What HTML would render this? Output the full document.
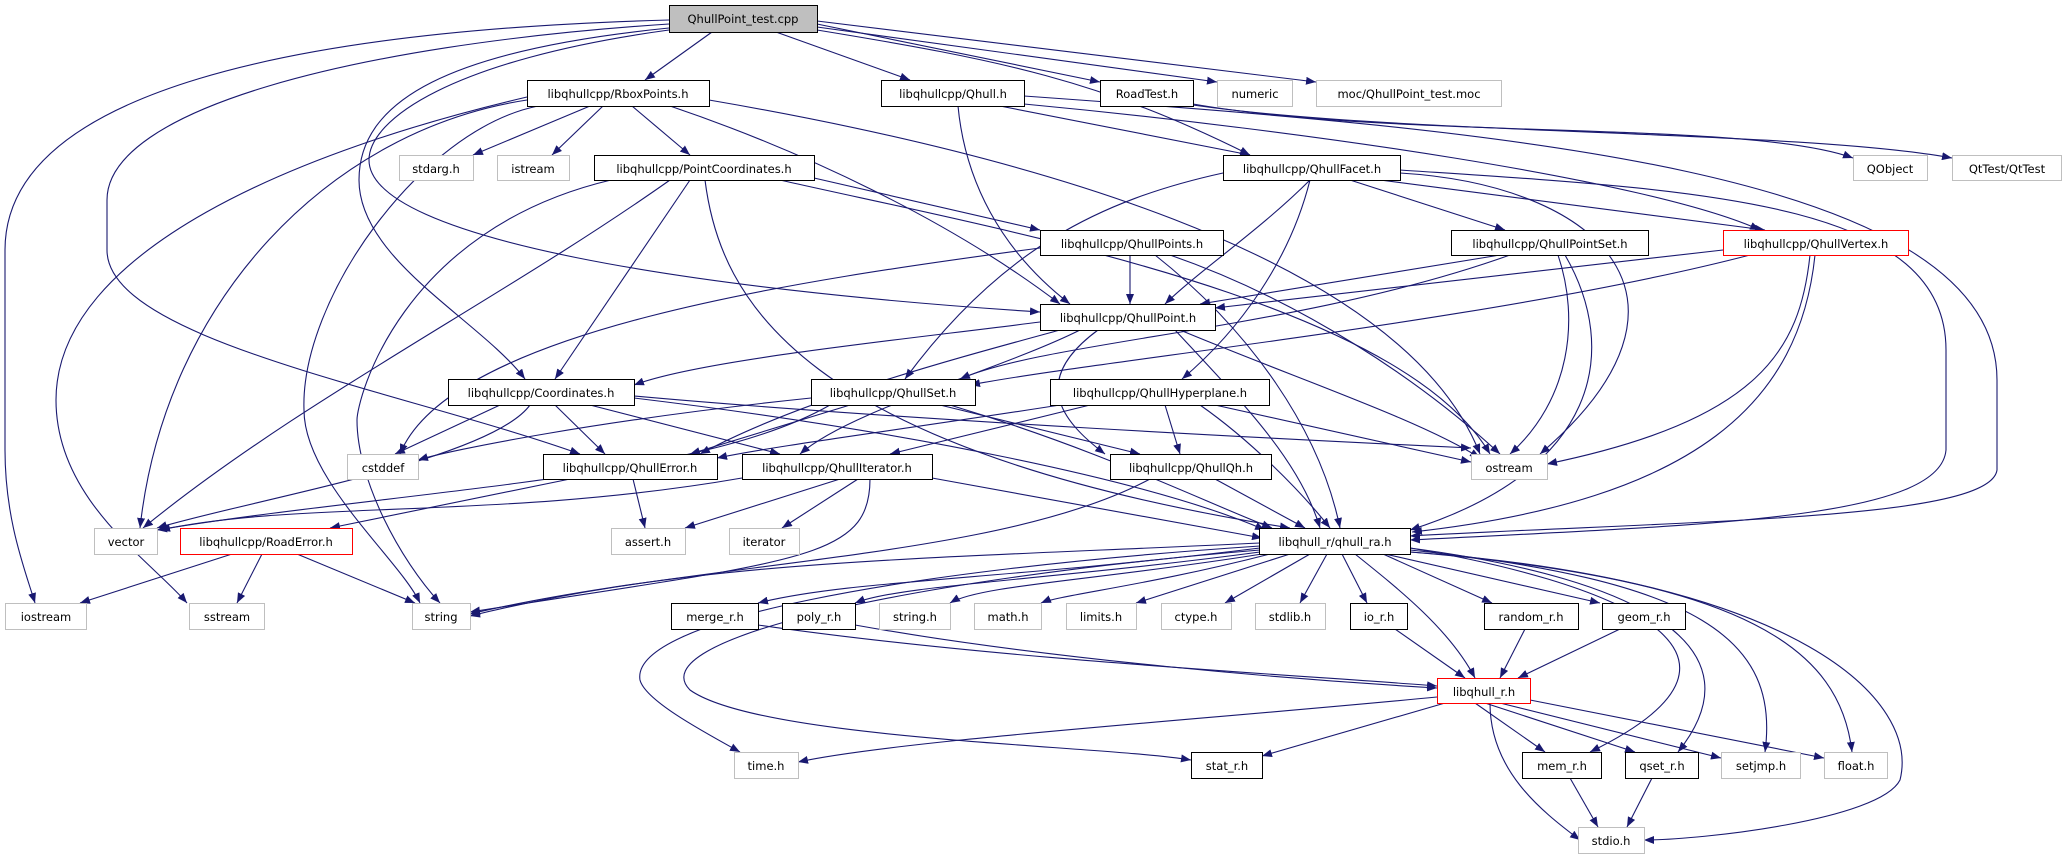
<!DOCTYPE html>
<html><head><meta charset="utf-8"><style>
html,body{margin:0;padding:0;background:#fff;}
svg{display:block;}
text{font-family:"DejaVu Sans","Liberation Sans",sans-serif;font-size:11.5px;fill:#000;}
.e{fill:none;stroke:#191970;stroke-width:1.1;marker-end:url(#a);}
.n{fill:#fff;stroke:#000;stroke-width:1;}
.g{fill:#fff;stroke:#bfbfbf;stroke-width:1;}
.r{fill:#fff;stroke:#ff0000;stroke-width:1;}
</style></head><body>
<svg width="2066" height="859" viewBox="0 0 2066 859" xmlns="http://www.w3.org/2000/svg">
<defs><marker id="a" markerWidth="10" markerHeight="8" refX="10" refY="4" orient="auto" markerUnits="userSpaceOnUse"><polygon points="0,0 10,4 0,8" fill="#191970"/></marker></defs>
<g>
<path class="e" d="M712,32 L645,80"/>
<path class="e" d="M776,32 L910,80"/>
<path class="e" d="M817,24 L1100,82"/>
<path class="e" d="M817,27 L1217,82"/>
<path class="e" d="M817,21 L1316,82"/>
<path class="e" d="M817,30 C1000,60 1100,80 1250,155"/>
<path class="e" d="M669,20 C300,30 5,90 5,250 L5,450 C5,520 25,570 35,603"/>
<path class="e" d="M669,24 C350,45 107,110 107,200 L107,250 C107,340 400,390 580,454"/>
<path class="e" d="M669,28 C450,50 359,100 359,180 C359,260 480,320 525,379"/>
<path class="e" d="M669,30 C450,60 369,120 369,160 C369,240 700,290 1040,312"/>
<path class="e" d="M590,106 L473,155"/>
<path class="e" d="M603,106 L552,155"/>
<path class="e" d="M632,106 L690,155"/>
<path class="e" d="M527,100 C330,130 165,300 140,528"/>
<path class="e" d="M527,97 C300,150 56,250 56,400 C56,500 150,560 187,603"/>
<path class="e" d="M538,106 C420,130 300,300 304,410 C304,480 400,560 420,603"/>
<path class="e" d="M670,106 C800,150 950,220 1060,304"/>
<path class="e" d="M709,100 C1000,150 1400,250 1480,454"/>
<path class="e" d="M958,106 C965,180 1000,250 1070,304"/>
<path class="e" d="M1000,106 L1250,155"/>
<path class="e" d="M1024,104 C1300,130 1650,180 1760,230"/>
<path class="e" d="M1024,96 C1500,130 1997,170 1997,380 L1997,470 C1990,520 1700,520 1410,536"/>
<path class="e" d="M1193,104 C1400,140 1750,120 1853,158"/>
<path class="e" d="M1193,105 C1400,135 1800,130 1952,158"/>
<path class="e" d="M690,180 L555,379"/>
<path class="e" d="M814,178 L1040,230"/>
<path class="e" d="M780,180 C1000,230 1400,300 1490,454"/>
<path class="e" d="M705,180 C720,300 800,450 1290,528"/>
<path class="e" d="M670,180 C500,300 300,400 143,528"/>
<path class="e" d="M611,180 C400,230 357,400 357,420 C357,480 400,560 440,603"/>
<path class="e" d="M1310,180 C1260,230 1200,270 1165,304"/>
<path class="e" d="M1310,180 C1290,260 1240,330 1182,379"/>
<path class="e" d="M1350,180 L1505,230"/>
<path class="e" d="M1380,180 L1765,230"/>
<path class="e" d="M1223,173 C1100,200 1000,250 905,379"/>
<path class="e" d="M1400,173 C1600,185 1720,300 1540,454"/>
<path class="e" d="M1400,170 C1700,190 1946,200 1946,350 L1946,450 C1940,520 1700,525 1410,540"/>
<path class="e" d="M1130,255 L1130,304"/>
<path class="e" d="M1040,248 C800,280 450,330 400,454"/>
<path class="e" d="M1155,255 C1250,330 1320,430 1340,528"/>
<path class="e" d="M1170,255 C1300,300 1420,380 1500,454"/>
<path class="e" d="M1500,255 L1200,304"/>
<path class="e" d="M1510,255 C1300,330 1050,340 960,379"/>
<path class="e" d="M1558,255 C1580,320 1570,400 1510,454"/>
<path class="e" d="M1565,255 C1620,350 1600,470 1410,530"/>
<path class="e" d="M1723,250 L1215,308"/>
<path class="e" d="M1750,255 C1500,320 1100,360 970,385"/>
<path class="e" d="M1810,255 C1800,350 1760,420 1547,464"/>
<path class="e" d="M1815,255 C1800,400 1700,500 1412,532"/>
<path class="e" d="M1040,322 C900,340 700,360 634,385"/>
<path class="e" d="M1060,330 C950,360 800,400 700,454"/>
<path class="e" d="M1080,330 C1000,370 850,410 800,454"/>
<path class="e" d="M1098,330 C1030,380 1060,420 1105,454"/>
<path class="e" d="M1180,330 C1300,380 1420,420 1480,458"/>
<path class="e" d="M1175,330 C1240,400 1300,460 1320,528"/>
<path class="e" d="M500,405 L395,454"/>
<path class="e" d="M530,405 C490,460 250,500 157,528"/>
<path class="e" d="M555,405 L605,454"/>
<path class="e" d="M590,405 L780,454"/>
<path class="e" d="M634,398 C900,430 1150,480 1265,530"/>
<path class="e" d="M634,396 C900,420 1300,440 1471,448"/>
<path class="e" d="M811,398 C600,420 450,450 418,460"/>
<path class="e" d="M850,405 L690,454"/>
<path class="e" d="M940,405 L1140,454"/>
<path class="e" d="M950,405 C1100,450 1200,500 1272,528"/>
<path class="e" d="M830,405 C700,480 400,490 157,530"/>
<path class="e" d="M1060,405 C900,430 780,445 717,458"/>
<path class="e" d="M1090,405 L890,454"/>
<path class="e" d="M1165,405 L1180,454"/>
<path class="e" d="M1215,405 L1471,462"/>
<path class="e" d="M1200,405 C1250,440 1300,490 1330,528"/>
<path class="e" d="M633,479 L645,528"/>
<path class="e" d="M570,479 L330,528"/>
<path class="e" d="M742,478 C500,520 300,500 160,530"/>
<path class="e" d="M840,479 L685,528"/>
<path class="e" d="M858,479 L782,528"/>
<path class="e" d="M932,478 L1262,538"/>
<path class="e" d="M870,479 C870,560 800,560 470,612"/>
<path class="e" d="M1215,479 L1305,528"/>
<path class="e" d="M1150,479 C1000,560 700,560 470,614"/>
<path class="e" d="M232,554 L80,603"/>
<path class="e" d="M262,554 L237,603"/>
<path class="e" d="M297,554 L415,603"/>
<path class="e" d="M1260,543 C900,560 700,560 470,616"/>
<path class="e" d="M1260,548 C1000,580 850,580 758,603"/>
<path class="e" d="M1260,552 C1050,580 900,585 855,603"/>
<path class="e" d="M1262,554 C1100,580 980,585 950,603"/>
<path class="e" d="M1270,554 C1150,585 1060,595 1041,603"/>
<path class="e" d="M1290,554 L1136,603"/>
<path class="e" d="M1310,554 L1225,603"/>
<path class="e" d="M1327,554 L1300,603"/>
<path class="e" d="M1342,554 L1367,603"/>
<path class="e" d="M1383,554 L1492,603"/>
<path class="e" d="M1385,554 L1600,603"/>
<path class="e" d="M1355,554 C1400,590 1450,630 1475,678"/>
<path class="e" d="M1260,546 C900,570 630,620 640,680 C645,700 700,730 740,752"/>
<path class="e" d="M1260,550 C900,580 640,640 690,690 C760,740 1100,745 1191,760"/>
<path class="e" d="M1410,548 C1600,580 1800,650 1590,752"/>
<path class="e" d="M1410,548 C1650,580 1760,650 1678,752"/>
<path class="e" d="M1410,550 C1700,580 1780,640 1765,752"/>
<path class="e" d="M1410,552 C1750,580 1840,650 1852,752"/>
<path class="e" d="M1410,552 C1800,580 1920,700 1900,780 C1880,820 1700,840 1644,840"/>
<path class="e" d="M758,625 C1000,660 1300,675 1437,686"/>
<path class="e" d="M855,625 C1050,660 1300,680 1437,688"/>
<path class="e" d="M1395,629 L1465,678"/>
<path class="e" d="M1525,629 L1500,678"/>
<path class="e" d="M1620,629 L1518,678"/>
<path class="e" d="M1437,697 C1200,720 900,740 798,762"/>
<path class="e" d="M1445,703 L1262,756"/>
<path class="e" d="M1475,703 L1545,752"/>
<path class="e" d="M1485,703 L1635,752"/>
<path class="e" d="M1500,703 L1721,758"/>
<path class="e" d="M1530,700 L1824,758"/>
<path class="e" d="M1490,703 C1490,770 1540,810 1580,840"/>
<path class="e" d="M1570,778 L1598,827"/>
<path class="e" d="M1652,778 L1627,827"/>
</g>
<g>
<rect x="669.5" y="5.5" width="148" height="27" fill="#bfbfbf" stroke="#000"/><text x="743" y="23" text-anchor="middle">QhullPoint_test.cpp</text>
<rect class="n" x="527.5" y="80.5" width="182" height="26"/><text x="618" y="98" text-anchor="middle">libqhullcpp/RboxPoints.h</text>
<rect class="n" x="881.5" y="80.5" width="143" height="26"/><text x="953" y="98" text-anchor="middle">libqhullcpp/Qhull.h</text>
<rect class="n" x="1100.5" y="80.5" width="93" height="26"/><text x="1147" y="98" text-anchor="middle">RoadTest.h</text>
<rect class="g" x="1217.5" y="80.5" width="75" height="26"/><text x="1255" y="98" text-anchor="middle">numeric</text>
<rect class="g" x="1316.5" y="80.5" width="185" height="26"/><text x="1409" y="98" text-anchor="middle">moc/QhullPoint_test.moc</text>
<rect class="g" x="399.5" y="155.5" width="74" height="25"/><text x="436" y="173" text-anchor="middle">stdarg.h</text>
<rect class="g" x="497.5" y="155.5" width="72" height="25"/><text x="533" y="173" text-anchor="middle">istream</text>
<rect class="n" x="594.5" y="155.5" width="220" height="25"/><text x="704" y="173" text-anchor="middle">libqhullcpp/PointCoordinates.h</text>
<rect class="n" x="1223.5" y="155.5" width="177" height="25"/><text x="1312" y="173" text-anchor="middle">libqhullcpp/QhullFacet.h</text>
<rect class="g" x="1853.5" y="155.5" width="74" height="25"/><text x="1890" y="173" text-anchor="middle">QObject</text>
<rect class="g" x="1952.5" y="155.5" width="109" height="25"/><text x="2007" y="173" text-anchor="middle">QtTest/QtTest</text>
<rect class="n" x="1040.5" y="230.5" width="183" height="25"/><text x="1132" y="248" text-anchor="middle">libqhullcpp/QhullPoints.h</text>
<rect class="n" x="1451.5" y="230.5" width="197" height="25"/><text x="1550" y="248" text-anchor="middle">libqhullcpp/QhullPointSet.h</text>
<rect class="r" x="1723.5" y="230.5" width="185" height="25"/><text x="1816" y="248" text-anchor="middle">libqhullcpp/QhullVertex.h</text>
<rect class="n" x="1040.5" y="304.5" width="175" height="26"/><text x="1128" y="322" text-anchor="middle">libqhullcpp/QhullPoint.h</text>
<rect class="n" x="448.5" y="379.5" width="186" height="26"/><text x="541" y="397" text-anchor="middle">libqhullcpp/Coordinates.h</text>
<rect class="n" x="811.5" y="379.5" width="164" height="26"/><text x="893" y="397" text-anchor="middle">libqhullcpp/QhullSet.h</text>
<rect class="n" x="1050.5" y="379.5" width="219" height="26"/><text x="1160" y="397" text-anchor="middle">libqhullcpp/QhullHyperplane.h</text>
<rect class="g" x="347.5" y="454.5" width="71" height="25"/><text x="383" y="472" text-anchor="middle">cstddef</text>
<rect class="n" x="543.5" y="454.5" width="174" height="25"/><text x="630" y="472" text-anchor="middle">libqhullcpp/QhullError.h</text>
<rect class="n" x="742.5" y="454.5" width="190" height="25"/><text x="837" y="472" text-anchor="middle">libqhullcpp/QhullIterator.h</text>
<rect class="n" x="1110.5" y="454.5" width="161" height="25"/><text x="1191" y="472" text-anchor="middle">libqhullcpp/QhullQh.h</text>
<rect class="g" x="1471.5" y="454.5" width="76" height="25"/><text x="1509" y="472" text-anchor="middle">ostream</text>
<rect class="g" x="94.5" y="528.5" width="63" height="26"/><text x="126" y="546" text-anchor="middle">vector</text>
<rect class="r" x="180.5" y="528.5" width="172" height="26"/><text x="266" y="546" text-anchor="middle">libqhullcpp/RoadError.h</text>
<rect class="g" x="611.5" y="528.5" width="74" height="26"/><text x="648" y="546" text-anchor="middle">assert.h</text>
<rect class="g" x="729.5" y="528.5" width="70" height="26"/><text x="764" y="546" text-anchor="middle">iterator</text>
<rect class="n" x="1259.5" y="528.5" width="151" height="26"/><text x="1335" y="546" text-anchor="middle">libqhull_r/qhull_ra.h</text>
<rect class="g" x="5.5" y="603.5" width="81" height="26"/><text x="46" y="621" text-anchor="middle">iostream</text>
<rect class="g" x="189.5" y="603.5" width="75" height="26"/><text x="227" y="621" text-anchor="middle">sstream</text>
<rect class="g" x="412.5" y="603.5" width="58" height="26"/><text x="441" y="621" text-anchor="middle">string</text>
<rect class="n" x="671.5" y="603.5" width="87" height="26"/><text x="715" y="621" text-anchor="middle">merge_r.h</text>
<rect class="n" x="782.5" y="603.5" width="73" height="26"/><text x="819" y="621" text-anchor="middle">poly_r.h</text>
<rect class="g" x="879.5" y="603.5" width="71" height="26"/><text x="915" y="621" text-anchor="middle">string.h</text>
<rect class="g" x="974.5" y="603.5" width="67" height="26"/><text x="1008" y="621" text-anchor="middle">math.h</text>
<rect class="g" x="1066.5" y="603.5" width="70" height="26"/><text x="1101" y="621" text-anchor="middle">limits.h</text>
<rect class="g" x="1161.5" y="603.5" width="70" height="26"/><text x="1196" y="621" text-anchor="middle">ctype.h</text>
<rect class="g" x="1255.5" y="603.5" width="70" height="26"/><text x="1290" y="621" text-anchor="middle">stdlib.h</text>
<rect class="n" x="1350.5" y="603.5" width="57" height="26"/><text x="1379" y="621" text-anchor="middle">io_r.h</text>
<rect class="n" x="1484.5" y="603.5" width="94" height="26"/><text x="1531" y="621" text-anchor="middle">random_r.h</text>
<rect class="n" x="1602.5" y="603.5" width="83" height="26"/><text x="1644" y="621" text-anchor="middle">geom_r.h</text>
<rect class="r" x="1437.5" y="678.5" width="93" height="25"/><text x="1484" y="696" text-anchor="middle">libqhull_r.h</text>
<rect class="g" x="734.5" y="752.5" width="64" height="26"/><text x="766" y="770" text-anchor="middle">time.h</text>
<rect class="n" x="1191.5" y="752.5" width="71" height="26"/><text x="1227" y="770" text-anchor="middle">stat_r.h</text>
<rect class="n" x="1522.5" y="752.5" width="79" height="26"/><text x="1562" y="770" text-anchor="middle">mem_r.h</text>
<rect class="n" x="1625.5" y="752.5" width="73" height="26"/><text x="1662" y="770" text-anchor="middle">qset_r.h</text>
<rect class="g" x="1721.5" y="752.5" width="79" height="26"/><text x="1761" y="770" text-anchor="middle">setjmp.h</text>
<rect class="g" x="1824.5" y="752.5" width="63" height="26"/><text x="1856" y="770" text-anchor="middle">float.h</text>
<rect class="g" x="1578.5" y="827.5" width="66" height="26"/><text x="1611" y="845" text-anchor="middle">stdio.h</text>
</g>
</svg>
</body></html>
